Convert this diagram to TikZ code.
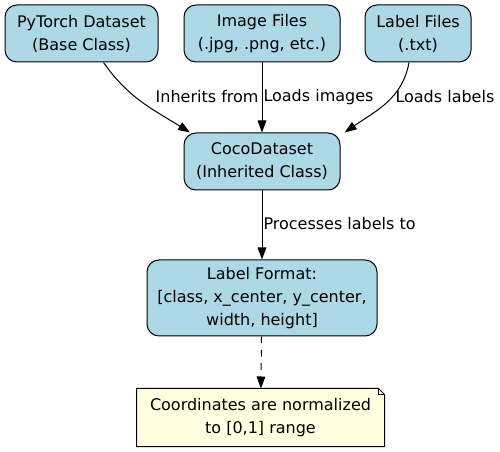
\documentclass[tikz,border=0pt]{standalone}
\usepackage{fontspec}
\setmainfont{DejaVu Sans}
\usetikzlibrary{arrows.meta, positioning, calc}
\definecolor{boxblue}{HTML}{ADD8E6}
\definecolor{noteyellow}{HTML}{FFFFE0}
\tikzset{
    block/.style={
        rectangle, draw, fill=boxblue, align=center,
        rounded corners=9pt, inner sep=0pt, font=\fontsize{12}{17.25}\selectfont
    },
    notebox/.style={
        rectangle, fill=noteyellow, align=center,
        inner sep=0pt, font=\fontsize{12}{17.25}\selectfont
    },
    elabel/.style={font=\fontsize{12}{17}\selectfont, inner sep=0pt},
    line/.style={draw, -{Triangle[length=9pt, width=6.5pt]}}
}
\begin{document}
\begin{tikzpicture}[x=0.75pt, y=-0.75pt, line width=0.75pt]
        \useasboundingbox (0,0) rectangle (500,452);
        % Layout
        \node [block, minimum width=114.75pt, minimum height=42.75pt] (torch) at (81.5, 33.5) {PyTorch Dataset\\(Base Class)};
        \node [block, minimum width=117pt, minimum height=42.75pt] (images) at (262, 33.5) {Image Files\\(.jpg, .png, etc.)};
        \node [block, minimum width=79.5pt, minimum height=42.75pt] (labels) at (418, 33.5) {Label Files\\(.txt)};
        \node [block, minimum width=117pt, minimum height=42.75pt] (coco) at (262, 161.5) {CocoDataset\\(Inherited Class)};
        \node [block, minimum width=172.5pt, minimum height=57pt] (fmt) at (262, 298) {Label Format:\\{[}class, x\_center, y\_center,\\width, height{]}};
        \node [notebox, minimum width=185.25pt, minimum height=42.75pt] (note) at (260.5, 417.5) {Coordinates are normalized\\to {[}0,1{]} range};
        \draw (note.north west) -- ([xshift=-4.5pt]note.north east) -- ([yshift=-4.5pt]note.north east)
            -- (note.south east) -- (note.south west) -- cycle;
        \draw ([xshift=-4.5pt]note.north east) |- ([yshift=-4.5pt]note.north east);

        % Edge labels
        \node [elabel, anchor=east] (lbinherit) at (259, 97) {Inherits from};
        \node [elabel, anchor=west] (lbimages) at (263, 97) {Loads images};
        \node [elabel, anchor=west] (lblabels) at (395, 97) {Loads labels};
        \node [elabel, anchor=west] (lbproc) at (263, 224) {Processes labels to};

        % Flows
        \path [line] ([xshift=16.5pt]torch.south) to[out=-55, in=148] ([xshift=-54pt]coco.north);
        \path [line] (images) -- (coco);
        \path [line] ([xshift=-6.75pt]labels.south) to[out=-100, in=35] ([xshift=62pt]coco.north);
        \path [line] (coco) -- (fmt);
        \path [line, dash pattern=on 5pt off 5pt] (fmt) -- (note);
    \end{tikzpicture}
\end{document}
